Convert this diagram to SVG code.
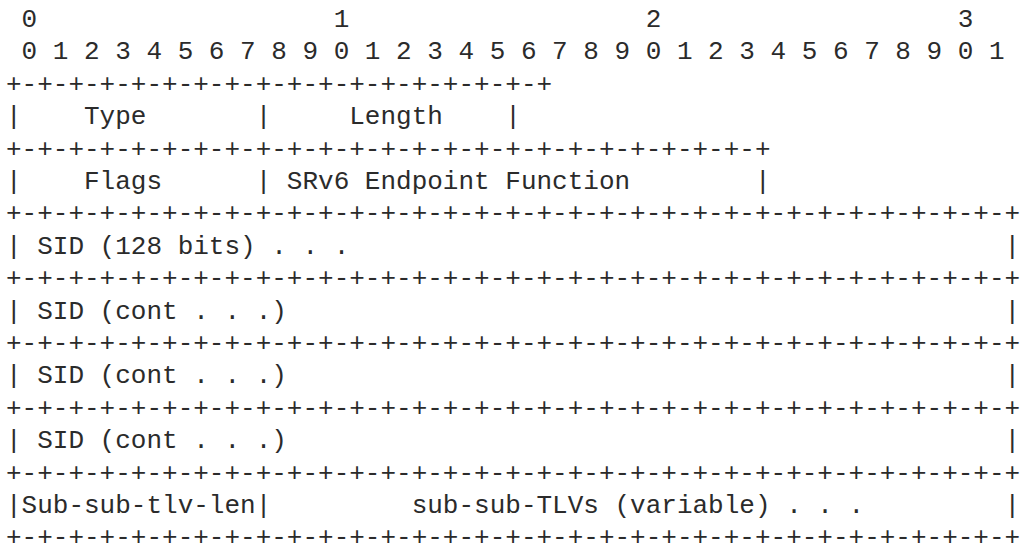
<svg xmlns="http://www.w3.org/2000/svg" width="1021" height="550" viewBox="0 0 1021 550">
<style>
text { font-family: "Liberation Mono", "DejaVu Sans Mono", monospace; font-size: 26px; fill: #2b2b2b; white-space: pre; }
</style>
<rect width="1021" height="550" fill="#ffffff"/>
<g id="packet" xml:space="preserve">
<text x="6" y="27"> 0                   1                   2                   3</text>
<text x="6" y="59.4"> 0 1 2 3 4 5 6 7 8 9 0 1 2 3 4 5 6 7 8 9 0 1 2 3 4 5 6 7 8 9 0 1</text>
<text x="6" y="91.8">+-+-+-+-+-+-+-+-+-+-+-+-+-+-+-+-+-+</text>
<text x="6" y="124.2">|    Type       |     Length    |</text>
<text x="6" y="156.6">+-+-+-+-+-+-+-+-+-+-+-+-+-+-+-+-+-+-+-+-+-+-+-+-+</text>
<text x="6" y="189">|    Flags      | SRv6 Endpoint Function        |</text>
<text x="6" y="221.4">+-+-+-+-+-+-+-+-+-+-+-+-+-+-+-+-+-+-+-+-+-+-+-+-+-+-+-+-+-+-+-+-+</text>
<text x="6" y="253.8">| SID (128 bits) . . .                                          |</text>
<text x="6" y="286.2">+-+-+-+-+-+-+-+-+-+-+-+-+-+-+-+-+-+-+-+-+-+-+-+-+-+-+-+-+-+-+-+-+</text>
<text x="6" y="318.6">| SID (cont . . .)                                              |</text>
<text x="6" y="351">+-+-+-+-+-+-+-+-+-+-+-+-+-+-+-+-+-+-+-+-+-+-+-+-+-+-+-+-+-+-+-+-+</text>
<text x="6" y="383.4">| SID (cont . . .)                                              |</text>
<text x="6" y="415.8">+-+-+-+-+-+-+-+-+-+-+-+-+-+-+-+-+-+-+-+-+-+-+-+-+-+-+-+-+-+-+-+-+</text>
<text x="6" y="448.2">| SID (cont . . .)                                              |</text>
<text x="6" y="480.6">+-+-+-+-+-+-+-+-+-+-+-+-+-+-+-+-+-+-+-+-+-+-+-+-+-+-+-+-+-+-+-+-+</text>
<text x="6" y="513">|Sub-sub-tlv-len|         sub-sub-TLVs (variable) . . .         |</text>
<text x="6" y="545.4">+-+-+-+-+-+-+-+-+-+-+-+-+-+-+-+-+-+-+-+-+-+-+-+-+-+-+-+-+-+-+-+-+</text>
</g>
</svg>
